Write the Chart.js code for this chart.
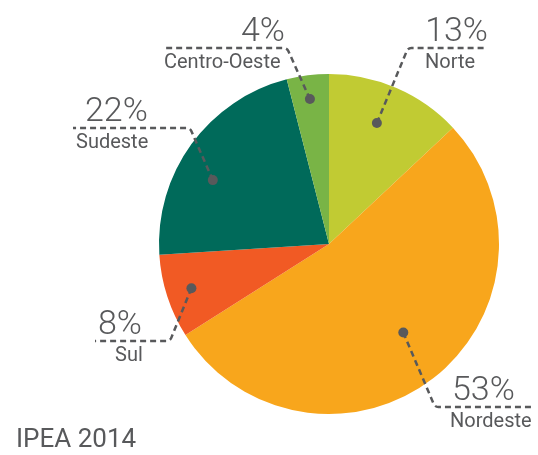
<!DOCTYPE html>
<html>
<head>
<meta charset="utf-8">
<script src="https://cdn.jsdelivr.net/npm/chart.js@4"></script>
<style>
html,body{margin:0;padding:0;background:#fff;}
canvas{display:block;}
</style>
</head>
<body>
<canvas id="c" width="538" height="455"></canvas>
<script>
const categories = ["Norte", "Nordeste", "Sul", "Sudeste", "Centro-Oeste"];
const shares = [13, 53, 8, 22, 4];
const colors = ["#c1cb33", "#f8a61c", "#f15a24", "#006a5a", "#79b446"];
const sourceNote = "IPEA 2014";

// annotation layout (relative to pie centre)
const labelLayout = [
  {dotDeg: -1.8, dotR: 0.765, elbow: [79, -196], end: [158, -196], pctX: 159, pctAlign: "right", labX: 96, labAlign: "left"},
  {dotDeg: -2.2, dotR: 0.68, elbow: [106, 163], end: [204, 163], pctX: 123, pctAlign: "left", labX: 121, labAlign: "left"},
  {dotDeg: 0.2, dotR: 0.85, elbow: [-159, 97], end: [-234, 97], pctX: -231, pctAlign: "left", labX: -214, labAlign: "left"},
  {dotDeg: -7.2, dotR: 0.78, elbow: [-139, -116], end: [-256, -116], pctX: -244, pctAlign: "left", labX: -253, labAlign: "left"},
  {dotDeg: -0.3, dotR: 0.86, elbow: [-42, -196], end: [-166, -196], pctX: -44, pctAlign: "right", labX: -165, labAlign: "left"}
];

const TEXT = "#58595b";

const annot = {
  id: "annot",
  afterDatasetsDraw(chart) {
    const ctx = chart.ctx;
    const meta = chart.getDatasetMeta(0);
    meta.data.forEach((arc, i) => {
      const p = arc.getProps(["x", "y", "startAngle", "endAngle", "outerRadius"], true);
      const L = labelLayout[i];
      const mid = (p.startAngle + p.endAngle) / 2 + L.dotDeg * Math.PI / 180;
      const dx = p.x + Math.cos(mid) * p.outerRadius * L.dotR;
      const dy = p.y + Math.sin(mid) * p.outerRadius * L.dotR;
      const ex = p.x + L.elbow[0], ey = p.y + L.elbow[1];
      const fx = p.x + L.end[0], fy = p.y + L.end[1];
      ctx.save();
      ctx.strokeStyle = TEXT;
      ctx.lineWidth = 2.5;
      ctx.setLineDash([6, 4]);
      ctx.lineCap = "butt";
      ctx.beginPath();
      ctx.moveTo(dx, dy);
      ctx.arcTo(ex, ey, fx, fy, 5);
      ctx.lineTo(fx, fy);
      ctx.stroke();
      ctx.setLineDash([]);
      ctx.fillStyle = TEXT;
      ctx.beginPath();
      ctx.arc(dx, dy, 5, 0, Math.PI * 2);
      ctx.fill();
      ctx.textBaseline = "alphabetic";
      ctx.font = "300 34px Roboto";
      ctx.textAlign = L.pctAlign;
      ctx.fillText(shares[i] + "%", p.x + L.pctX, ey - 7);
      ctx.font = "400 20px Roboto";
      ctx.textAlign = L.labAlign;
      ctx.fillText(categories[i], p.x + L.labX, ey + 20);
      ctx.restore();
    });
    ctx.save();
    ctx.fillStyle = TEXT;
    ctx.font = "400 26px Roboto";
    ctx.textAlign = "left";
    ctx.textBaseline = "alphabetic";
    ctx.fillText(sourceNote, 16, 447);
    ctx.restore();
  }
};

new Chart(document.getElementById("c"), {
  type: "pie",
  data: {
    labels: categories,
    datasets: [{
      data: shares,
      backgroundColor: colors,
      borderWidth: 0
    }]
  },
  options: {
    responsive: false,
    animation: false,
    layout: {padding: {top: 74, bottom: 41, left: 159, right: 39}},
    plugins: {legend: {display: false}, tooltip: {enabled: false}}
  },
  plugins: [annot]
});
</script>
</body>
</html>
